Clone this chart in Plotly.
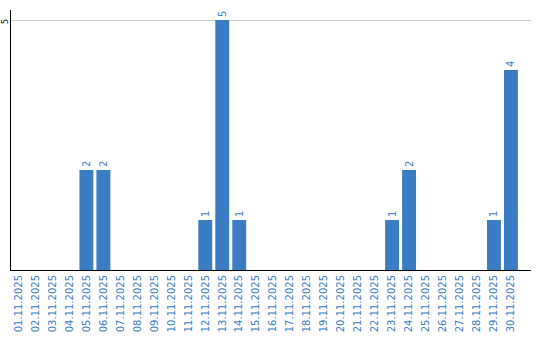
import plotly.graph_objects as go

dates = [f"{d:02d}.11.2025" for d in range(1, 31)]
counts = [0, 0, 0, 0, 2, 2, 0, 0, 0, 0, 0, 1, 5, 1, 0, 0, 0, 0, 0, 0, 0, 0, 1, 2, 0, 0, 0, 0, 1, 4]
labels = [str(c) if c else "" for c in counts]
y_ticks = [5]

blue = "#3b7dc3"

fig = go.Figure(go.Bar(
    x=dates, y=counts, text=labels, textposition="outside",
    textangle=-90, cliponaxis=False, constraintext="none",
    textfont=dict(color=blue, size=10, family="DejaVu Sans"),
    marker=dict(color=blue, line=dict(width=0)),
))
for t in y_ticks:
    fig.add_annotation(
        x=0, xref="paper", y=t, yref="y", text=str(t), showarrow=False,
        textangle=-90, xanchor="center", yanchor="middle", xshift=-6, yshift=-2,
        font=dict(color="black", size=8, family="DejaVu Sans"),
    )
fig.update_layout(
    width=540, height=340, margin=dict(l=10.5, r=9, t=10, b=70),
    paper_bgcolor="white", plot_bgcolor="white", showlegend=False,
    bargap=0.18,
    font=dict(family="DejaVu Sans"),
)
fig.update_xaxes(
    type="category", range=[-0.44, 30.18], tickangle=-90, automargin=False,
    tickfont=dict(color=blue, size=10, family="DejaVu Sans"),
    showline=True, linecolor="black", linewidth=1, showgrid=False,
    ticks="", ticklen=0,
)
fig.update_yaxes(
    range=[0, 5.2], tickvals=y_ticks, showticklabels=False, automargin=False,
    showline=True, linecolor="black", linewidth=1,
    showgrid=True, gridcolor="#cccccc", gridwidth=1, zeroline=False,
    ticks="", ticklen=0,
)
fig.write_html("out.html")
